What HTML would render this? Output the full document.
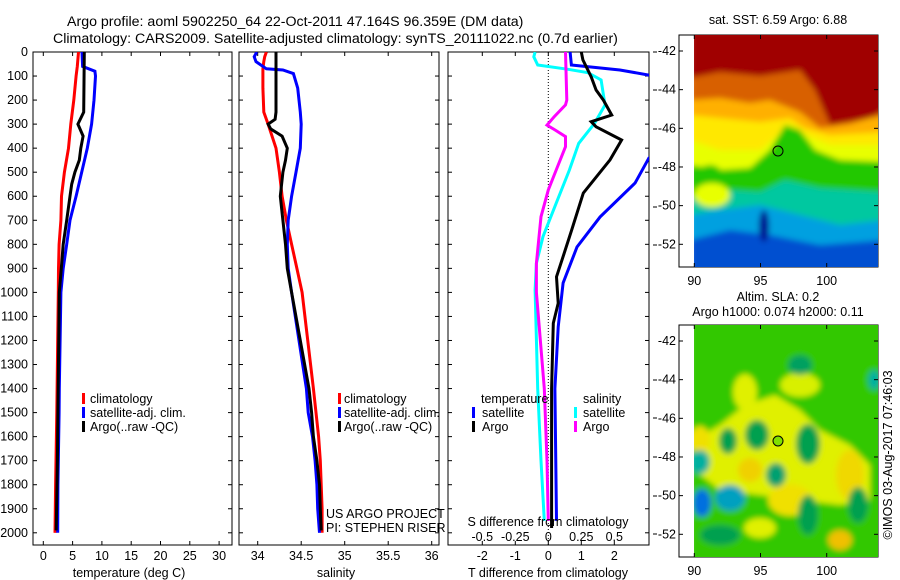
<!DOCTYPE html>
<html><head><meta charset="utf-8"><style>
html,body{margin:0;padding:0;background:#fff}
svg{display:block;font-family:"Liberation Sans",sans-serif;font-size:12.5px}
.tt{font-size:14.2px}
</style></head><body>
<svg id="s" width="900" height="580" viewBox="0 0 900 580">
<defs>
<filter id="bl" x="-10%" y="-10%" width="120%" height="120%"><feGaussianBlur stdDeviation="3"/></filter>
<clipPath id="c1"><rect x="33" y="52" width="199" height="493"/></clipPath>
<clipPath id="c2"><rect x="239" y="52" width="200" height="493"/></clipPath>
<clipPath id="c3"><rect x="448" y="52" width="201" height="493"/></clipPath>
<clipPath id="m1"><rect x="694" y="35" width="184" height="232"/></clipPath>
<clipPath id="m2"><rect x="694" y="325" width="184" height="232"/></clipPath>
</defs>
<text class="tt" x="67" y="26">Argo profile: aoml 5902250_64 22-Oct-2011 47.164S 96.359E (DM data)</text>
<text class="tt" x="53" y="43">Climatology: CARS2009. Satellite-adjusted climatology: synTS_20111022.nc (0.7d earlier)</text>

<!-- SST map -->
<g>
<rect x="679" y="35" width="199" height="232" fill="#fff" stroke="#000"/>
<g clip-path="url(#m1)">
<g filter="url(#bl)">
<rect x="690" y="30" width="195" height="245" fill="#a00000"/>
<path d="M690,78 L720,72 L760,76 L800,70 L815,90 L830,125 L870,118 L885,110 L885,275 L690,275Z" fill="#d86000"/>
<path d="M690,100 L720,98 L750,103 L770,100 L800,112 L820,128 L850,124 L870,118 L885,116 L885,275 L690,275Z" fill="#ffb000"/>
<path d="M690,115 L720,118 L760,122 L790,118 L805,128 L830,135 L885,132 L885,275 L690,275Z" fill="#ffe800"/>
<path d="M690,140 L720,150 L760,150 L790,125 L805,135 L830,145 L885,145 L885,275 L690,275Z" fill="#e8ff00"/>
<path d="M690,165 L720,170 L750,168 L770,150 L785,125 L800,130 L815,150 L840,160 L885,162 L885,275 L690,275Z" fill="#20c800"/>
<path d="M690,198 L730,190 L760,192 L785,180 L820,188 L885,192 L885,275 L690,275Z" fill="#00c8a0"/>
<path d="M690,215 L720,210 L760,205 L800,215 L840,225 L885,220 L885,275 L690,275Z" fill="#00a0e0"/>
<path d="M690,240 L730,230 L770,235 L820,245 L885,240 L885,275 L690,275Z" fill="#0050d0"/>
<ellipse cx="764" cy="226" rx="5" ry="16" fill="#000090"/>
<ellipse cx="840" cy="78" rx="25" ry="25" fill="#a00000"/>
<ellipse cx="710" cy="175" rx="12" ry="10" fill="#20c800"/>
<ellipse cx="712" cy="195" rx="18" ry="12" fill="#e8ff00"/>
</g></g>
<circle cx="778" cy="151" r="5" fill="none" stroke="#000" stroke-width="1"/>
<text x="778" y="24" text-anchor="middle">sat. SST: 6.59 Argo: 6.88</text>
</g>
<!-- SLA map -->
<g>
<rect x="679" y="325" width="199" height="232" fill="#fff" stroke="#000"/>
<g clip-path="url(#m2)"><g filter="url(#bl)">
<rect x="690" y="320" width="195" height="245" fill="#30c800"/>
<path d="M694,440 L720,425 L745,405 L775,395 L800,410 L820,430 L850,445 L870,465 L870,500 L840,505 L800,500 L760,495 L720,490 L694,470Z" fill="#e0f000"/>
<ellipse cx="745" cy="392" rx="12" ry="18" fill="#e0f000"/>
<ellipse cx="800" cy="385" rx="20" ry="12" fill="#d8f000"/>
<ellipse cx="700" cy="440" rx="10" ry="14" fill="#f0e000"/>
<ellipse cx="850" cy="475" rx="14" ry="25" fill="#f0d800"/>
<ellipse cx="840" cy="540" rx="12" ry="10" fill="#f0c000"/>
<ellipse cx="790" cy="500" rx="22" ry="16" fill="#f0e000"/>
<ellipse cx="750" cy="470" rx="12" ry="12" fill="#f0d000"/>
<ellipse cx="760" cy="528" rx="16" ry="10" fill="#e0f000"/>
<ellipse cx="728" cy="441" rx="9" ry="13" fill="#00a050"/>
<ellipse cx="757" cy="435" rx="12" ry="15" fill="#00a050"/>
<ellipse cx="808" cy="444" rx="12" ry="20" fill="#00a050"/>
<ellipse cx="776" cy="475" rx="10" ry="12" fill="#00a070"/>
<ellipse cx="700" cy="462" rx="10" ry="12" fill="#00b0a0"/>
<ellipse cx="730" cy="498" rx="15" ry="13" fill="#00a0c0"/>
<ellipse cx="702" cy="503" rx="9" ry="14" fill="#0070e0"/>
<ellipse cx="808" cy="515" rx="10" ry="20" fill="#00a050"/>
<ellipse cx="858" cy="505" rx="10" ry="18" fill="#00a050"/>
<ellipse cx="800" cy="365" rx="12" ry="10" fill="#00a060"/>
<ellipse cx="874" cy="380" rx="6" ry="10" fill="#00b0a0"/>
<ellipse cx="720" cy="535" rx="20" ry="10" fill="#00a050"/>
</g></g>
<circle cx="778" cy="441" r="5" fill="#80e000" stroke="#000" stroke-width="1"/>
<text x="778" y="301" text-anchor="middle">Altim. SLA: 0.2</text>
<text x="778" y="316" text-anchor="middle">Argo h1000: 0.074 h2000: 0.11</text>
</g>
<text transform="translate(892,455) rotate(-90)" text-anchor="middle">©IMOS 03-Aug-2017 07:46:03</text>
<g id="dyn"></g>
</svg>
<script>
// ---- data ----
const tDepth = [0,60,80,100,200,300,400,500,600,700,800,900,1000,1400,1500,1800,2000];
const tClim = [6.0,5.8,5.7,5.6,5.2,4.7,4.3,3.6,3.1,3.0,2.7,2.6,2.56,2.35,2.3,2.1,2.0];
const tSat  = [6.6,6.7,8.8,8.9,8.65,8.25,7.5,6.55,5.6,4.55,4.0,3.4,3.0,2.73,2.7,2.5,2.45];
const argoDepth = [0,250,300,350,400,450,500,550,600,700,800,900,1000,1500,1700,1990];
const tArgo = [7.0,6.9,5.9,6.8,6.4,6.15,5.4,4.85,4.55,4.0,3.4,3.07,2.73,2.5,2.4,2.2];
const sDepth = [0,20,40,70,75,90,150,250,300,400,500,600,700,800,900,1000,1400,1500,1600,1700,1800,1900,2000];
const sClim = [34.10,34.08,34.07,34.06,34.06,34.06,34.06,34.07,34.12,34.21,34.25,34.28,34.33,34.39,34.45,34.51,34.64,34.67,34.70,34.72,34.73,34.74,34.74];
const sSat  = [33.99,33.96,33.98,34.10,34.29,34.41,34.46,34.49,34.50,34.49,34.44,34.39,34.35,34.34,34.35,34.39,34.56,34.58,34.63,34.66,34.68,34.69,34.71];
const sArgoDepth = [0,250,280,300,320,350,400,450,500,600,700,800,900,1000,1400,1500,1600,1700,1800,1900,1990];
const sArgo = [34.21,34.21,34.20,34.12,34.15,34.28,34.34,34.32,34.29,34.26,34.29,34.32,34.34,34.39,34.59,34.62,34.64,34.68,34.71,34.72,34.73];
const dtDepth = [0,54,75,96,150,300,441,545,686,811,961,1144,1400,1950];
const dtSat = [0.66,0.70,2.17,3.05,5.0,4.5,3.05,2.63,1.57,0.87,0.45,0.3,0.2,0.25];
const dtArgoDepth = [0,33,103,158,200,262,290,311,366,449,587,740,851,935,1045,1128,1400,1980];
const dtArgo = [1.0,1.05,1.3,1.45,1.67,1.92,1.3,1.45,2.22,1.87,1.06,0.71,0.45,0.25,0.3,0.15,0.1,0.1];
const dsDepth = [0,20,54,72,86,116,186,220,297,380,491,629,768,879,990,1400,1700,1950];
const dsSat = [-0.1,-0.11,-0.08,0.15,0.3,0.4,0.42,0.43,0.35,0.23,0.16,0.06,-0.04,-0.09,-0.1,-0.08,-0.055,-0.03];
const dsArgoDepth = [0,200,220,269,304,324,352,394,491,574,685,879,1000,1400,1700,1950];
const dsArgo = [0.13,0.14,0.13,0.045,-0.01,0.05,0.13,0.13,0.06,0.0,-0.055,-0.09,-0.09,-0.03,-0.01,0.0];
const depthTicks = [0,100,200,300,400,500,600,700,800,900,1000,1100,1200,1300,1400,1500,1600,1700,1800,1900,2000];
const tempTicks = [0,5,10,15,20,25,30];
const salTicks = [34,34.5,35,35.5,36];
const salTickLabels = ["34","34.5","35","35.5","36"];
const dtTicks = [-2,-1,0,1,2];
const dsTicks = [-0.5,-0.25,0,0.25,0.5];
const dsTickLabels = ["-0.5","-0.25","0","0.25","0.5"];
const latTicks = [-42,-44,-46,-48,-50,-52];
const lonTicks = [90,95,100];

// ---- scales ----
const Y = d => 52 + d*0.2404;
const XT = t => 43.3 + t*5.86;
const XS = s => 257.7 + (s-34)*87;
const XDT = t => 548.3 + t*33;
const XDS = s => 548.3 + s*132;
const LAT1 = l => 51 + (-42 - l)*19.33;
const LAT2 = l => 341 + (-42 - l)*19.33;
const LON = l => 694.3 + (l-90)*13.24;

const NS = "http://www.w3.org/2000/svg";
const root = document.getElementById('dyn');
function mk(tag, attrs, parent, txt){
  const e = document.createElementNS(NS, tag);
  for (const k in attrs) e.setAttribute(k, attrs[k]);
  if (txt !== undefined) e.textContent = txt;
  (parent||root).appendChild(e);
  return e;
}
function line(xs, depths, fx, color, clip, name){
  const pts = xs.map((v,i)=> fx(v).toFixed(1)+','+Y(depths[i]).toFixed(1)).join(' ');
  const e = mk('polyline', {points: pts, fill:'none', stroke: color, 'stroke-width': 3, 'clip-path': 'url(#'+clip+')'});
  
  
}
function frame(x0, x1, name){
  const e = mk('rect', {x:x0, y:52, width:x1-x0, height:493, fill:'none', stroke:'#000', 'stroke-width':1});
  
  
  depthTicks.forEach(d=>{
    mk('line',{x1:x0,x2:x0+4,y1:Y(d),y2:Y(d),stroke:'#000'});
    mk('line',{x1:x1,x2:x1-4,y1:Y(d),y2:Y(d),stroke:'#000'});
  });
}
function text(x,y,s,name,anchor,color){
  const e = mk('text',{x:x,y:y,'text-anchor':anchor||'start',fill:color||'#000'},root,s);
  
  
  return e;
}
function legendMark(x,y,color,name){
  const e = mk('rect',{x:x,y:y-10,width:3,height:11,fill:color});
  
  
}

// ---- panel 1 temperature ----
frame(33,232,'temperature-panel-frame');
depthTicks.forEach(d=>{ text(28, Y(d)+4, String(d), 'depth-tick-label', 'end'); });
tempTicks.forEach(t=>{
  mk('line',{x1:XT(t),x2:XT(t),y1:52,y2:56,stroke:'#000'});
  mk('line',{x1:XT(t),x2:XT(t),y1:545,y2:541,stroke:'#000'});
  text(XT(t), 560, String(t), 'temperature-tick-label', 'middle');
});
text(129, 577, 'temperature (deg C)', 'temperature-axis-title', 'middle');
line(tClim, tDepth, XT, '#f00', 'c1', 'temp-climatology-line');
line(tSat, tDepth, XT, '#00f', 'c1', 'temp-satellite-line');
line(tArgo, argoDepth, XT, '#000', 'c1', 'temp-argo-line');
[['climatology','#f00'],['satellite-adj. clim.','#00f'],['Argo(..raw -QC)','#000']].forEach((r,i)=>{
  legendMark(82, 403+i*14, r[1], 'temp-legend-marker');
  text(90, 403+i*14, r[0], 'temp-legend-entry');
});

// ---- panel 2 salinity ----
frame(239,439,'salinity-panel-frame');
salTicks.forEach((s,i)=>{
  mk('line',{x1:XS(s),x2:XS(s),y1:52,y2:56,stroke:'#000'});
  mk('line',{x1:XS(s),x2:XS(s),y1:545,y2:541,stroke:'#000'});
  text(XS(s), 560, salTickLabels[i], 'salinity-tick-label', 'middle');
});
text(336, 577, 'salinity', 'salinity-axis-title', 'middle');
line(sClim, sDepth, XS, '#f00', 'c2', 'sal-climatology-line');
line(sSat, sDepth, XS, '#00f', 'c2', 'sal-satellite-line');
line(sArgo, sArgoDepth, XS, '#000', 'c2', 'sal-argo-line');
[['climatology','#f00'],['satellite-adj. clim.','#00f'],['Argo(..raw -QC)','#000']].forEach((r,i)=>{
  legendMark(338, 403+i*14, r[1], 'sal-legend-marker');
  text(344, 403+i*14, r[0], 'sal-legend-entry');
});
text(326, 518, 'US ARGO PROJECT', 'project-label');
text(326, 532, 'PI: STEPHEN RISER', 'pi-label');

// ---- panel 3 differences ----
frame(448,649,'difference-panel-frame');
mk('line',{x1:548.3,x2:548.3,y1:52,y2:545,stroke:'#000','stroke-dasharray':'1,2'});
dtTicks.forEach(t=>{
  mk('line',{x1:XDT(t),x2:XDT(t),y1:52,y2:56,stroke:'#000'});
  mk('line',{x1:XDT(t),x2:XDT(t),y1:545,y2:541,stroke:'#000'});
  text(XDT(t), 560, String(t), 'dt-tick-label', 'middle');
});
dsTicks.forEach((s,i)=>{ text(XDS(s), 541, dsTickLabels[i], 'ds-tick-label', 'middle'); });
[52,90,129,168,207,245,380,418,457,496,534].forEach(y=>mk('line',{x1:653,x2:657,y1:y,y2:y,stroke:'#000'}));
line(dsSat, dsDepth, XDS, '#0ff', 'c3', 'ds-satellite-line');
line(dsArgo, dsArgoDepth, XDS, '#f0f', 'c3', 'ds-argo-line');
line(dtSat, dtDepth, XDT, '#00f', 'c3', 'dt-satellite-line');
line(dtArgo, dtArgoDepth, XDT, '#000', 'c3', 'dt-argo-line');
text(481, 403, 'temperature', 'dt-legend-heading');
text(583, 403, 'salinity', 'ds-legend-heading');
legendMark(472, 417, '#00f', 'dt-legend-marker'); text(482, 417, 'satellite', 'dt-legend-entry');
legendMark(472, 431, '#000', 'dt-legend-marker'); text(482, 431, 'Argo', 'dt-legend-entry');
legendMark(574, 417, '#0ff', 'ds-legend-marker'); text(583, 417, 'satellite', 'ds-legend-entry');
legendMark(574, 431, '#f0f', 'ds-legend-marker'); text(583, 431, 'Argo', 'ds-legend-entry');
text(548, 526, 'S difference from climatology', 'ds-axis-title', 'middle');
text(548, 577, 'T difference from climatology', 'dt-axis-title', 'middle');

// ---- map axes ----
[[LAT1,35,267],[LAT2,325,557]].forEach((m,mi)=>{
  latTicks.forEach(l=>{
    const y = m[0](l);
    mk('line',{x1:679,x2:683,y1:y,y2:y,stroke:'#000'});
    mk('line',{x1:878,x2:874,y1:y,y2:y,stroke:'#000'});
    text(676, y+4, String(l), 'lat-tick-label', 'end');
  });
  lonTicks.forEach(l=>{
    mk('line',{x1:LON(l),x2:LON(l),y1:m[2],y2:m[2]-4,stroke:'#000'});
    mk('line',{x1:LON(l),x2:LON(l),y1:m[1],y2:m[1]+4,stroke:'#000'});
    text(LON(l), m[2]+18, String(l), 'lon-tick-label', 'middle');
  });
});
</script>
</body></html>
